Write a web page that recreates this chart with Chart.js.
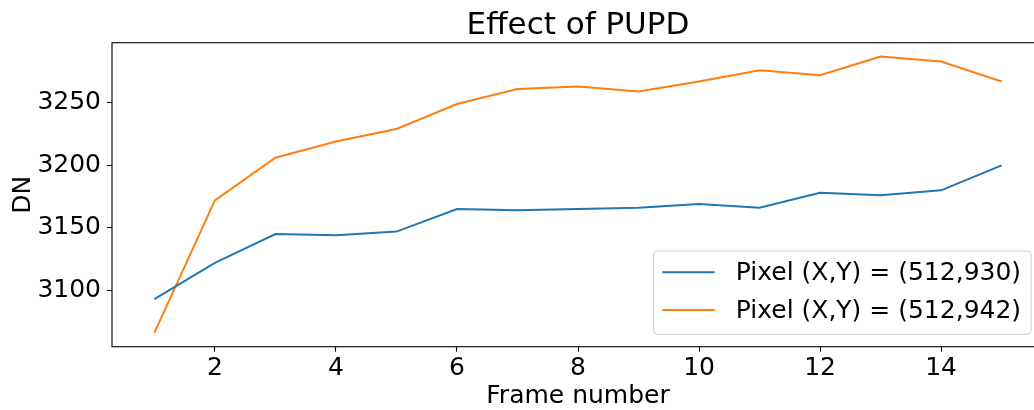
<!DOCTYPE html>
<html>
<head>
<meta charset="utf-8">
<title>Effect of PUPD</title>
<script src="https://cdn.jsdelivr.net/npm/chart.js@4.4.1/dist/chart.umd.min.js"></script>
<style>
  html, body { margin: 0; padding: 0; background: #ffffff; overflow: hidden; }
  #wrap { width: 1044px; height: 410px; }
</style>
</head>
<body>
<div id="wrap"><canvas id="chart" width="1044" height="410"></canvas></div>
<script>
// Frame index and mean DN for two pixels
const frames = [1, 2, 3, 4, 5, 6, 7, 8, 9, 10, 11, 12, 13, 14, 15];
const pixel930 = [3093, 3122, 3145, 3144, 3147, 3165, 3164, 3165, 3166, 3169, 3166, 3178, 3176, 3180, 3200];
const pixel942 = [3066, 3172, 3206, 3219, 3229, 3249, 3261, 3263, 3259, 3267, 3276, 3272, 3287, 3283, 3267];
const seriesLabels = ['Pixel (X,Y) = (512,930)', 'Pixel (X,Y) = (512,942)'];
const xTicks = [2, 4, 6, 8, 10, 12, 14];
const yTicks = [3100, 3150, 3200, 3250];

const FONT = 'DejaVu Sans';
const TEXT_SIZE = 25;
const TITLE_SIZE = 31;
const BLUE = '#1f77b4';
const ORANGE = '#ff7f0e';

function points(values) {
  return frames.map((f, i) => ({ x: f, y: values[i] }));
}

// Axes frame drawn over the lines
const framePlugin = {
  id: 'frame',
  afterDatasetsDraw(chart) {
    const { ctx, chartArea: a } = chart;
    ctx.save();
    ctx.strokeStyle = '#000000';
    ctx.lineWidth = 1.1;
    ctx.strokeRect(a.left, a.top, a.right - a.left, a.bottom - a.top);
    ctx.restore();
  }
};

// Boxed legend in the lower right corner of the plot
const boxLegend = {
  id: 'boxLegend',
  afterDraw(chart) {
    const { ctx, chartArea: a } = chart;
    const ds = chart.data.datasets;
    ctx.save();
    ctx.font = TEXT_SIZE + 'px "' + FONT + '"';
    let tw = 0;
    ds.forEach(d => { tw = Math.max(tw, ctx.measureText(d.label).width); });
    const padL = 9, handle = 52.3, gap = 21, padR = 10;
    const w = padL + handle + gap + tw + padR;
    const h = 83.3;
    const right = a.right - 12.9;
    const bottom = a.bottom - 12.4;
    const left = right - w, top = bottom - h;
    ctx.beginPath();
    ctx.roundRect(left, top, w, h, 4);
    ctx.fillStyle = 'rgba(255,255,255,0.8)';
    ctx.fill();
    ctx.strokeStyle = '#cccccc';
    ctx.lineWidth = 1;
    ctx.stroke();
    ds.forEach((d, i) => {
      const cy = top + 21.3 + i * 37.7;
      ctx.beginPath();
      ctx.moveTo(left + padL, cy);
      ctx.lineTo(left + padL + handle, cy);
      ctx.strokeStyle = d.borderColor;
      ctx.lineWidth = 2;
      ctx.stroke();
      ctx.fillStyle = '#000000';
      ctx.textBaseline = 'middle';
      ctx.textAlign = 'left';
      ctx.fillText(d.label, left + padL + handle + gap, cy + 1);
    });
    ctx.restore();
  }
};

new Chart(document.getElementById('chart'), {
  type: 'line',
  data: {
    datasets: [
      { label: seriesLabels[0], data: points(pixel930), borderColor: BLUE, backgroundColor: BLUE,
        borderWidth: 2, pointRadius: 0, tension: 0, fill: false },
      { label: seriesLabels[1], data: points(pixel942), borderColor: ORANGE, backgroundColor: ORANGE,
        borderWidth: 2, pointRadius: 0, tension: 0, fill: false }
    ]
  },
  options: {
    responsive: false,
    animation: false,
    devicePixelRatio: 1,
    layout: { padding: { left: 0, right: 0, top: 0, bottom: 0 } },
    plugins: {
      legend: { display: false },
      tooltip: { enabled: false },
      title: {
        display: true,
        text: 'Effect of PUPD',
        fullSize: false,
        color: '#000000',
        font: { family: FONT, size: TITLE_SIZE, weight: 'normal', lineHeight: 1.1 },
        padding: { top: 8.6, bottom: 0 }
      }
    },
    scales: {
      x: {
        type: 'linear',
        min: 0.3,
        max: 15.7,
        afterBuildTicks(scale) { scale.ticks = xTicks.map(v => ({ value: v })); },
        afterFit(scale) { scale.height = 63.3; },
        grid: { display: true, drawOnChartArea: false, drawTicks: true, tickLength: 5, tickColor: '#000000', tickWidth: 1.1 },
        border: { display: false },
        ticks: { color: '#000000', padding: 2, maxRotation: 0, autoSkip: false,
                 callback: v => String(v),
                 font: { family: FONT, size: TEXT_SIZE } },
        title: { display: true, text: 'Frame number', color: '#000000',
                 font: { family: FONT, size: TEXT_SIZE }, padding: { top: 0, bottom: -1.5 } }
      },
      y: {
        type: 'linear',
        min: 3055,
        max: 3298,
        afterBuildTicks(scale) { scale.ticks = yTicks.map(v => ({ value: v })); },
        afterFit(scale) { scale.width = 112; },
        grid: { display: true, drawOnChartArea: false, drawTicks: true, tickLength: 5, tickColor: '#000000', tickWidth: 1.1 },
        border: { display: false },
        ticks: { color: '#000000', padding: 6, autoSkip: false,
                 callback: v => String(v),
                 font: { family: FONT, size: TEXT_SIZE } },
        title: { display: true, text: 'DN', color: '#000000',
                 font: { family: FONT, size: TEXT_SIZE }, padding: { top: 8.5, bottom: 0 } }
      }
    }
  },
  plugins: [framePlugin, boxLegend]
});
</script>
</body>
</html>
